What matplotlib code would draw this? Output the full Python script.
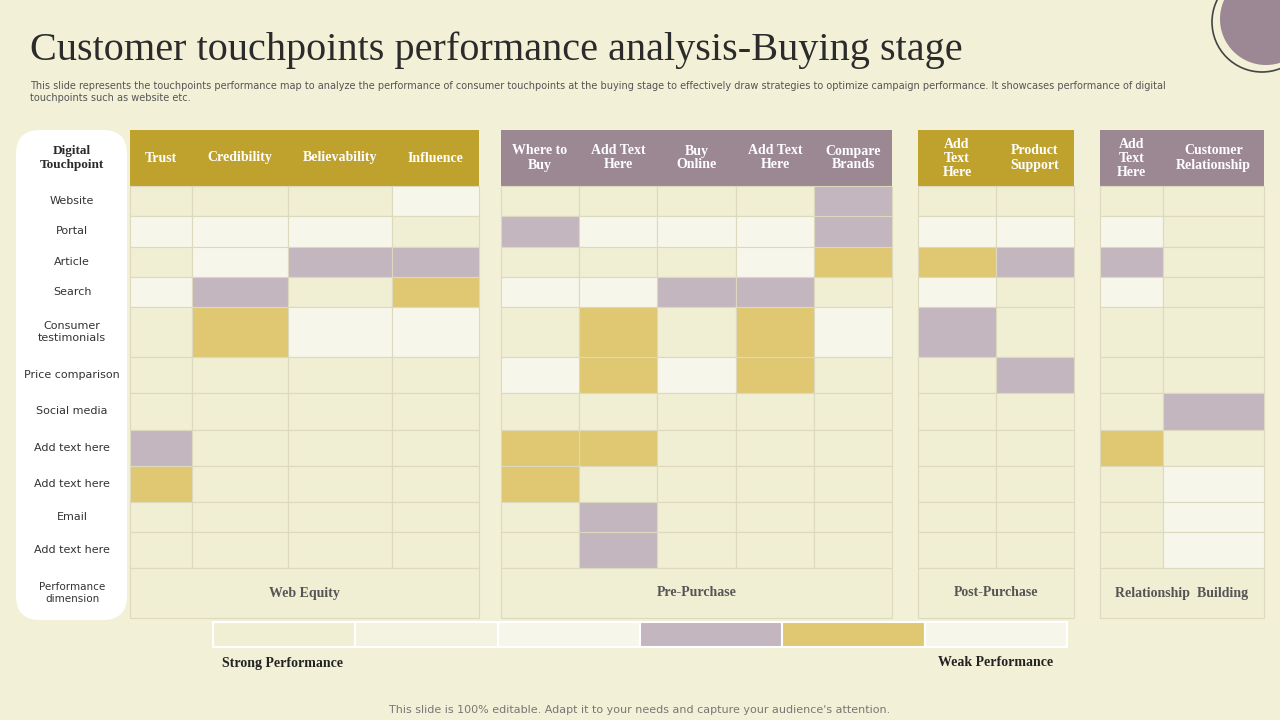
import matplotlib
matplotlib.use("Agg")
import matplotlib.pyplot as plt
from matplotlib.patches import Rectangle, FancyBboxPatch, Circle

title = "Customer touchpoints performance analysis-Buying stage"
subtitle = ("This slide represents the touchpoints performance map to analyze the performance of consumer touchpoints at the buying stage to effectively draw strategies to optimize campaign performance. It showcases performance of digital\n"
            "touchpoints such as website etc.")
footer = "This slide is 100% editable. Adapt it to your needs and capture your audience's attention."

rows = ["Website", "Portal", "Article", "Search", "Consumer\ntestimonials", "Price comparison",
        "Social media", "Add text here", "Add text here", "Email", "Add text here"]
groups = ["Web Equity", "Pre-Purchase", "Post-Purchase", "Relationship  Building"]
group_cols = [["Trust", "Credibility", "Believability", "Influence"],
              ["Where to\nBuy", "Add Text\nHere", "Buy\nOnline", "Add Text\nHere", "Compare\nBrands"],
              ["Add\nText\nHere", "Product\nSupport"],
              ["Add\nText\nHere", "Customer\nRelationship"]]
# 0 base, 1 light, 2 purple, 3 gold
levels = [
    [0,0,0,1, 0,0,0,0,2, 0,0, 0,0],
    [1,1,1,0, 2,1,1,1,2, 1,1, 1,0],
    [0,1,2,2, 0,0,0,1,3, 3,2, 2,0],
    [1,2,0,3, 1,1,2,2,0, 1,0, 1,0],
    [0,3,1,1, 0,3,0,3,1, 2,0, 0,0],
    [0,0,0,0, 1,3,1,3,0, 0,2, 0,0],
    [0,0,0,0, 0,0,0,0,0, 0,0, 0,2],
    [2,0,0,0, 3,3,0,0,0, 0,0, 3,0],
    [3,0,0,0, 3,0,0,0,0, 0,0, 0,1],
    [0,0,0,0, 0,2,0,0,0, 0,0, 0,1],
    [0,0,0,0, 0,2,0,0,0, 0,0, 0,1],
]
legend_levels = [0, 4, 1, 2, 3, 1]
legend_labels = ["Strong Performance", "Weak Performance"]

BG = "#F2F0D7"
cell_colors = {0: "#F1EFD3", 1: "#F7F6EA", 2: "#C3B6BF", 3: "#E0C873", 4: "#F4F3E1"}
hdr_colors = ["#BFA22E", "#9B8893", "#BFA22E", "#9B8893"]
GRID = "#DCD9BE"

group_x = [[130,192,288,392,479], [501,579,657,736,814,892], [918,996,1074], [1100,1163,1264]]
row_y = [186,216,247,277,307,357,393,430,466,502,532,568]

fig = plt.figure(figsize=(12.8, 7.2), dpi=100, facecolor=BG)
ax = fig.add_axes([0, 0, 1, 1])
ax.set_xlim(0, 1280); ax.set_ylim(720, 0); ax.axis("off")
ax.set_facecolor(BG)

ax.text(30, 50, title, fontsize=29, family="Liberation Serif", color="#2B2B2B", va="center")
ax.text(30, 92, subtitle, fontsize=7, color="#555555", va="center", linespacing=1.35)
ax.text(640, 710, footer, fontsize=8, color="#777777", ha="center", va="center")
ax.add_patch(Circle((1262, 22), 50, facecolor=BG, edgecolor="#444", lw=1.2))
ax.add_patch(Circle((1266, 19), 46, facecolor="#9C8794", edgecolor="none"))

# left pill
ax.add_patch(FancyBboxPatch((16, 130), 111, 490, boxstyle="round,pad=0,rounding_size=24",
                            facecolor="white", edgecolor="none"))
ax.text(72, 158, "Digital\nTouchpoint", fontsize=9.5, family="Liberation Serif", weight="bold",
        ha="center", va="center", color="#2B2B2B")
for i, r in enumerate(rows):
    ax.text(72, (row_y[i]+row_y[i+1])/2, r, fontsize=8, ha="center", va="center", color="#333")
ax.text(72, 593, "Performance\ndimension", fontsize=7.5, ha="center", va="center", color="#333")

ci = 0
for g, xs in enumerate(group_x):
    ax.add_patch(Rectangle((xs[0], 130), xs[-1]-xs[0], 56, facecolor=hdr_colors[g], edgecolor="none"))
    for j in range(len(xs)-1):
        ax.text((xs[j]+xs[j+1])/2, 158, group_cols[g][j], fontsize=10, family="Liberation Serif",
                weight="bold", color="white", ha="center", va="center", linespacing=1.1)
        for i in range(len(rows)):
            ax.add_patch(Rectangle((xs[j], row_y[i]), xs[j+1]-xs[j], row_y[i+1]-row_y[i],
                                   facecolor=cell_colors[levels[i][ci+j]], edgecolor=GRID, lw=0.8))
    ax.add_patch(Rectangle((xs[0], 568), xs[-1]-xs[0], 50, facecolor=cell_colors[0], edgecolor=GRID, lw=0.8))
    ax.text((xs[0]+xs[-1])/2, 593, groups[g], fontsize=10, family="Liberation Serif", weight="bold",
            color="#555", ha="center", va="center")
    ci += len(xs)-1

x0, w = 213, 142.3
for k, lv in enumerate(legend_levels):
    ax.add_patch(Rectangle((x0+k*w, 622), w, 25, facecolor=cell_colors[lv], edgecolor="white", lw=1.5))
ax.text(283, 663, legend_labels[0], fontsize=10, family="Liberation Serif", weight="bold", ha="center", va="center", color="#222")
ax.text(996, 663, legend_labels[1], fontsize=10, family="Liberation Serif", weight="bold", ha="center", va="center", color="#222")

fig.savefig("out.png", dpi=100, facecolor=BG)
